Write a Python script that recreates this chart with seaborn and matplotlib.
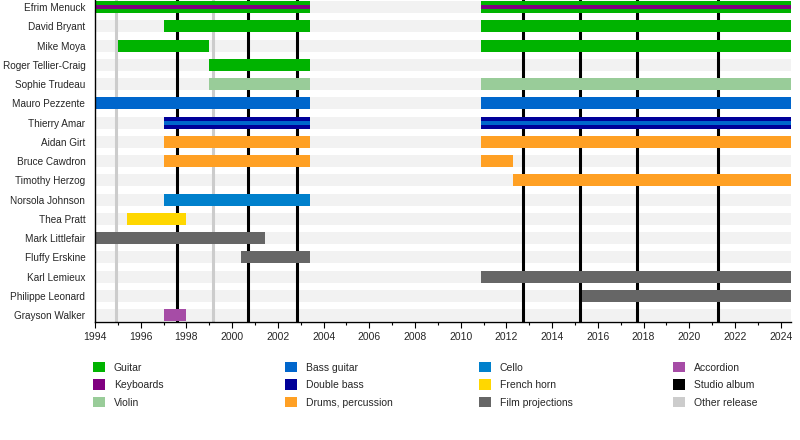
import matplotlib
matplotlib.use("Agg")
import matplotlib.pyplot as plt
from matplotlib.patches import Patch
from matplotlib.ticker import MultipleLocator
import seaborn as sns
import pandas as pd

sns.set_theme(style="white")
plt.rcParams['font.family'] = ['Liberation Sans', 'DejaVu Sans']

# band members, top to bottom
members = ["Efrim Menuck", "David Bryant", "Mike Moya", "Roger Tellier-Craig",
           "Sophie Trudeau", "Mauro Pezzente", "Thierry Amar", "Aidan Girt",
           "Bruce Cawdron", "Timothy Herzog", "Norsola Johnson", "Thea Pratt",
           "Mark Littlefair", "Fluffy Erskine", "Karl Lemieux", "Philippe Leonard",
           "Grayson Walker"]

start_year = 1994
end_year = 2024.45
hiatus_start = 2003.4
hiatus_end = 2010.9

# main bars: member, start, end, role
span_member = ["Efrim Menuck", "Efrim Menuck",
               "David Bryant", "David Bryant",
               "Mike Moya", "Mike Moya",
               "Roger Tellier-Craig",
               "Sophie Trudeau", "Sophie Trudeau",
               "Mauro Pezzente", "Mauro Pezzente",
               "Thierry Amar", "Thierry Amar",
               "Aidan Girt", "Aidan Girt",
               "Bruce Cawdron", "Bruce Cawdron",
               "Timothy Herzog",
               "Norsola Johnson",
               "Thea Pratt",
               "Mark Littlefair",
               "Fluffy Erskine",
               "Karl Lemieux",
               "Philippe Leonard",
               "Grayson Walker"]
span_start = [1994, hiatus_end,
              1997.0, hiatus_end,
              1995.0, hiatus_end,
              1999.0,
              1999.0, hiatus_end,
              1994, hiatus_end,
              1997.0, hiatus_end,
              1997.0, hiatus_end,
              1997.0, hiatus_end,
              2012.3,
              1997.0,
              1995.4,
              1994,
              2000.4,
              hiatus_end,
              2015.3,
              1997.0]
span_end = [hiatus_start, end_year,
            hiatus_start, end_year,
            1999.0, end_year,
            hiatus_start,
            hiatus_start, end_year,
            hiatus_start, end_year,
            hiatus_start, end_year,
            hiatus_start, end_year,
            hiatus_start, 2012.3,
            end_year,
            hiatus_start,
            1998.0,
            2001.44,
            hiatus_start,
            end_year,
            end_year,
            1998.0]
span_role = ["Guitar", "Guitar",
             "Guitar", "Guitar",
             "Guitar", "Guitar",
             "Guitar",
             "Violin", "Violin",
             "Bass guitar", "Bass guitar",
             "Double bass", "Double bass",
             "Drums, percussion", "Drums, percussion",
             "Drums, percussion", "Drums, percussion",
             "Drums, percussion",
             "Cello",
             "French horn",
             "Film projections",
             "Film projections",
             "Film projections",
             "Film projections",
             "Accordion"]

# secondary roles drawn as thin stripes
stripe_member = ["Efrim Menuck", "Efrim Menuck", "Thierry Amar", "Thierry Amar"]
stripe_start = [1994, hiatus_end, 1997.0, hiatus_end]
stripe_end = [hiatus_start, end_year, hiatus_start, end_year]
stripe_role = ["Keyboards", "Keyboards", "Bass guitar", "Bass guitar"]

studio_albums = [1997.6, 2000.7, 2002.84, 2012.74, 2015.23, 2017.72, 2021.27]
other_releases = [1994.9, 1999.17]

role_colors = {
    "Guitar": "#00b300",
    "Keyboards": "#800080",
    "Violin": "#99cc99",
    "Bass guitar": "#0066cc",
    "Double bass": "#000099",
    "Drums, percussion": "#ffa024",
    "Cello": "#0080cc",
    "French horn": "#ffd700",
    "Film projections": "#666666",
    "Accordion": "#a64ca6",
    "Studio album": "#000000",
    "Other release": "#cccccc",
}
legend_cols = [["Guitar", "Keyboards", "Violin"],
               ["Bass guitar", "Double bass", "Drums, percussion"],
               ["Cello", "French horn", "Film projections"],
               ["Accordion", "Studio album", "Other release"]]

spans = pd.DataFrame({"member": span_member, "start": span_start,
                      "end": span_end, "role": span_role})
stripes = pd.DataFrame({"member": stripe_member, "start": stripe_start,
                        "end": stripe_end, "role": stripe_role})
row = {m: i for i, m in enumerate(members)}
bar_h = 0.623

fig = plt.figure(figsize=(8, 4.4), dpi=100)
ax = fig.add_axes([95 / 800, 1 - 322 / 440, 696 / 800, 322 / 440])

# light background band for every row
ax.barh(range(len(members)), end_year - start_year, left=start_year,
        height=bar_h, color="#f2f2f2", linewidth=0, zorder=1)

# release markers
for yr in other_releases:
    ax.axvline(yr, color=role_colors["Other release"], lw=2.2, zorder=2)
for yr in studio_albums:
    ax.axvline(yr, color=role_colors["Studio album"], lw=2.2, zorder=2)

for _, r in spans.iterrows():
    ax.barh(row[r.member], r.end - r.start, left=r.start, height=bar_h,
            color=role_colors[r.role], linewidth=0, zorder=3)
for _, r in stripes.iterrows():
    ax.barh(row[r.member], r.end - r.start, left=r.start, height=bar_h / 3,
            color=role_colors[r.role], linewidth=0, zorder=4)

ax.set_xlim(start_year, end_year)
ax.set_ylim(16.36, -0.364)
ax.set_yticks(range(len(members)))
ax.set_yticklabels(members, fontsize=7.2)
ax.tick_params(axis="y", length=0, pad=7)
ax.xaxis.set_major_locator(MultipleLocator(2))
ax.xaxis.set_minor_locator(MultipleLocator(1))
ax.tick_params(axis="x", which="major", length=4, width=0.8, color="black",
               labelsize=7.5, pad=3, bottom=True)
ax.tick_params(axis="x", which="minor", length=2.2, width=0.8, color="black",
               bottom=True)
sns.despine(ax=ax, top=True, right=True)
for side in ["left", "bottom"]:
    ax.spines[side].set_color("black")
    ax.spines[side].set_linewidth(1)
    ax.spines[side].set_zorder(5)

col_x = [93, 285, 479, 673]
for x, labels in zip(col_x, legend_cols):
    handles = [Patch(facecolor=role_colors[l], edgecolor="none", label=l) for l in labels]
    fig.legend(handles=handles, loc="upper left",
               bbox_to_anchor=(x / 800, 1 - 362 / 440), frameon=False,
               borderaxespad=0, borderpad=0, fontsize=7.5,
               handlelength=1.15, handleheight=1.15, handletextpad=0.85,
               labelspacing=0.65)

fig.savefig("out.png", dpi=100)
